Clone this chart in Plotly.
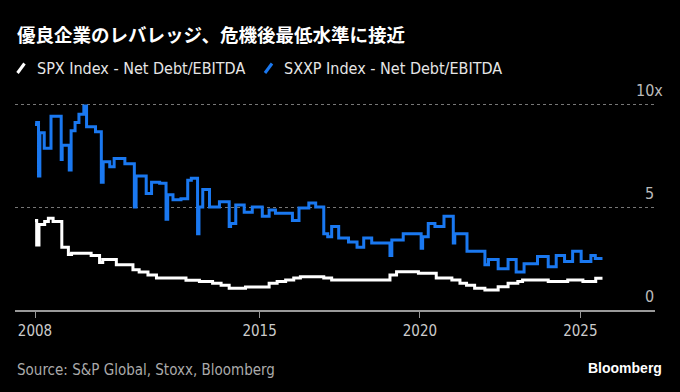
import plotly.graph_objects as go

title_text = "優良企業のレバレッジ、危機後最低水準に接近"
spx_name = "SPX Index - Net Debt/EBITDA"
sxxp_name = "SXXP Index - Net Debt/EBITDA"
source_text = "Source: S&P Global, Stoxx, Bloomberg"

sxxp_dates = [
    "2008-01-01", "2008-01-20", "2008-02-10", "2008-02-25", "2008-04-15", "2008-07-01",
    "2008-10-25", "2008-11-05", "2009-01-25", "2009-02-15", "2009-04-01", "2009-05-15",
    "2009-07-10", "2009-08-10", "2009-11-20", "2010-01-25", "2010-02-15", "2010-05-01",
    "2010-06-20", "2010-10-20", "2011-02-05", "2011-02-25", "2011-06-20", "2011-08-20",
    "2011-11-20", "2012-02-01", "2012-02-20", "2012-04-20", "2012-07-20", "2012-10-05",
    "2012-11-15", "2013-01-25", "2013-02-10", "2013-03-25", "2013-06-10", "2013-10-01",
    "2014-01-20", "2014-02-05", "2014-04-05", "2014-07-10", "2014-10-10", "2015-02-01",
    "2015-04-20", "2015-07-01", "2016-01-10", "2016-03-25", "2016-07-15", "2016-10-01",
    "2017-01-01", "2017-02-15", "2017-04-01", "2017-06-20", "2017-10-10", "2018-01-15",
    "2018-04-01", "2018-07-01", "2019-01-25", "2019-02-15", "2019-06-25", "2020-01-15",
    "2020-02-01", "2020-04-05", "2020-06-20", "2020-10-01", "2021-01-15", "2021-02-01",
    "2021-06-20", "2022-01-10", "2022-02-20", "2022-06-10", "2022-10-01", "2023-01-01",
    "2023-04-01", "2023-09-01", "2024-01-01", "2024-04-01", "2024-07-05", "2024-10-05",
    "2025-01-10", "2025-05-01", "2025-06-20", "2025-09-10",
]
sxxp_values = [
    9.0, 9.1, 6.5, 8.6, 7.85, 9.4,
    7.3, 8.0, 6.8, 8.7, 9.1, 9.5,
    9.9, 8.9, 8.65, 6.2, 7.2, 6.95,
    7.35, 7.1, 5.0, 6.5, 5.65, 6.2,
    6.15, 4.4, 5.6, 5.35, 5.4, 6.3,
    6.4, 3.7, 5.0, 5.85, 5.0, 5.25,
    4.05, 4.2, 5.1, 4.75, 5.0, 4.55,
    4.85, 4.7, 4.35, 4.95, 5.2, 5.0,
    3.7, 3.55, 4.05, 3.5, 3.3, 3.05,
    3.5, 3.25, 2.65, 3.4, 3.7, 3.0,
    3.55, 4.2, 4.05, 4.55, 3.25, 3.7,
    2.85, 2.2, 2.45, 2.0, 2.45, 1.85,
    2.25, 2.6, 2.1, 2.65, 2.35, 2.85,
    2.35, 2.65, 2.5, 2.5,
]

spx_dates = [
    "2008-01-01", "2008-01-20", "2008-02-15", "2008-04-20", "2008-06-01", "2008-07-25",
    "2008-11-01", "2009-01-15", "2009-02-20", "2009-10-01", "2010-01-05", "2010-02-10",
    "2010-07-15", "2011-01-20", "2011-04-01", "2011-07-10", "2011-10-15", "2012-09-15",
    "2013-02-15", "2013-07-15", "2013-10-20", "2014-01-20", "2014-07-25", "2015-04-20",
    "2015-07-20", "2015-10-25", "2016-01-25", "2016-04-10", "2017-01-01", "2017-04-01",
    "2019-01-25", "2019-04-10", "2019-12-15", "2020-07-05", "2020-12-30", "2021-04-01",
    "2021-06-15", "2021-09-15", "2022-01-10", "2022-06-10", "2022-10-01", "2023-01-20",
    "2023-03-15", "2024-01-01", "2024-08-10", "2025-01-30", "2025-06-25", "2025-09-10",
]
spx_values = [
    4.35, 3.15, 4.15, 4.3, 4.45, 4.3,
    3.05, 2.7, 2.75, 2.65, 2.3, 2.45,
    2.2, 1.95, 1.85, 1.7, 1.55, 1.45,
    1.38, 1.3, 1.2, 1.05, 1.12, 1.3,
    1.38, 1.46, 1.55, 1.62, 1.55, 1.46,
    1.7, 1.86, 1.78, 1.55, 1.46, 1.3,
    1.2, 1.05, 0.97, 1.13, 1.3, 1.38,
    1.46, 1.38, 1.46, 1.38, 1.54, 1.54,
]

x_tick_vals = ["2008-01-01", "2015-01-01", "2020-01-01", "2025-01-01"]
x_tick_text = ["2008", "2015", "2020", "2025"]
y_grid_vals = [5, 10]
y_label_vals = [10, 5, 0]
y_label_text = ["10x", "5", "0"]

BLUE = "#1a78f0"
WHITE = "#ffffff"
FONT = "DejaVu Sans Condensed, Liberation Sans Narrow, Roboto, sans-serif"

ML, MR, MT, MB = 15, 25, 85, 82
W, H = 680, 392
PW, PH = W - ML - MR, H - MT - MB
Y_MAX = PH / 20.6


def px_x(px):
    return (px - ML) / PW


def px_y(py):
    return (H - MB - py) / PH


fig = go.Figure()
fig.add_trace(go.Scatter(x=spx_dates, y=spx_values, mode="lines", line=dict(color=WHITE, width=3, shape="hv"),
                         name=spx_name, showlegend=False))
fig.add_trace(go.Scatter(x=sxxp_dates, y=sxxp_values, mode="lines", line=dict(color=BLUE, width=3, shape="hv"),
                         name=sxxp_name, showlegend=False))

annotations = [
    dict(text="<b>" + title_text + "</b>", x=px_x(15), y=px_y(34), xanchor="left", yanchor="middle",
         font=dict(family="Noto Sans CJK JP", size=18.5, color="#ffffff")),
    dict(text=spx_name, x=px_x(35), y=px_y(68.5), xanchor="left", yanchor="middle",
         font=dict(family=FONT, size=16, color="#e6e6e6")),
    dict(text=sxxp_name, x=px_x(282), y=px_y(68.5), xanchor="left", yanchor="middle",
         font=dict(family=FONT, size=16, color="#e6e6e6")),
    dict(text=source_text, x=px_x(15), y=px_y(370), xanchor="left", yanchor="middle",
         font=dict(family=FONT, size=15, color="#aaaaaa")),
    dict(text="<b>Bloomberg</b>", x=px_x(664), y=px_y(368), xanchor="right", yanchor="middle",
         font=dict(family="Liberation Sans, Arial, sans-serif", size=14, color="#ffffff")),
]
label_right = {"10x": 665, "5": 656, "0": 656}
for v, t in zip(y_label_vals, y_label_text):
    annotations.append(dict(text=t, x=px_x(label_right[t]), y=v, yref="y", xanchor="right", yanchor="bottom",
                            yshift=2, font=dict(family=FONT, size=16, color="#bbbbbb")))
for a in annotations:
    a.setdefault("xref", "paper")
    a.setdefault("yref", "paper")
    a["showarrow"] = False

shapes = [
    dict(type="line", xref="paper", yref="paper", x0=px_x(17.5), y0=px_y(73), x1=px_x(24.5), y1=px_y(63.5),
         line=dict(color=WHITE, width=3)),
    dict(type="line", xref="paper", yref="paper", x0=px_x(265), y0=px_y(73), x1=px_x(272), y1=px_y(63.5),
         line=dict(color=BLUE, width=3)),
]

fig.update_layout(
    width=W, height=H,
    margin=dict(l=ML, r=MR, t=MT, b=MB),
    paper_bgcolor="#000000", plot_bgcolor="#000000",
    showlegend=False,
    annotations=annotations,
    shapes=shapes,
    xaxis=dict(type="date", range=["2007-05-18", "2027-05-01"], tickvals=x_tick_vals, ticktext=x_tick_text,
               showgrid=False, zeroline=False, showline=True, linecolor="#999999", linewidth=2,
               ticks="outside", ticklen=6, tickcolor="#999999", tickwidth=1,
               tickfont=dict(family=FONT, size=15, color="#cccccc"), fixedrange=True),
    yaxis=dict(range=[0, Y_MAX], tickvals=y_grid_vals, showticklabels=False, showgrid=True,
               gridcolor="#777777", griddash="dot", gridwidth=1, zeroline=False, showline=False,
               fixedrange=True),
)

fig.write_html("out.html", config={"displayModeBar": False},
               post_script="document.body.style.margin='0';document.body.style.background='#000';")
